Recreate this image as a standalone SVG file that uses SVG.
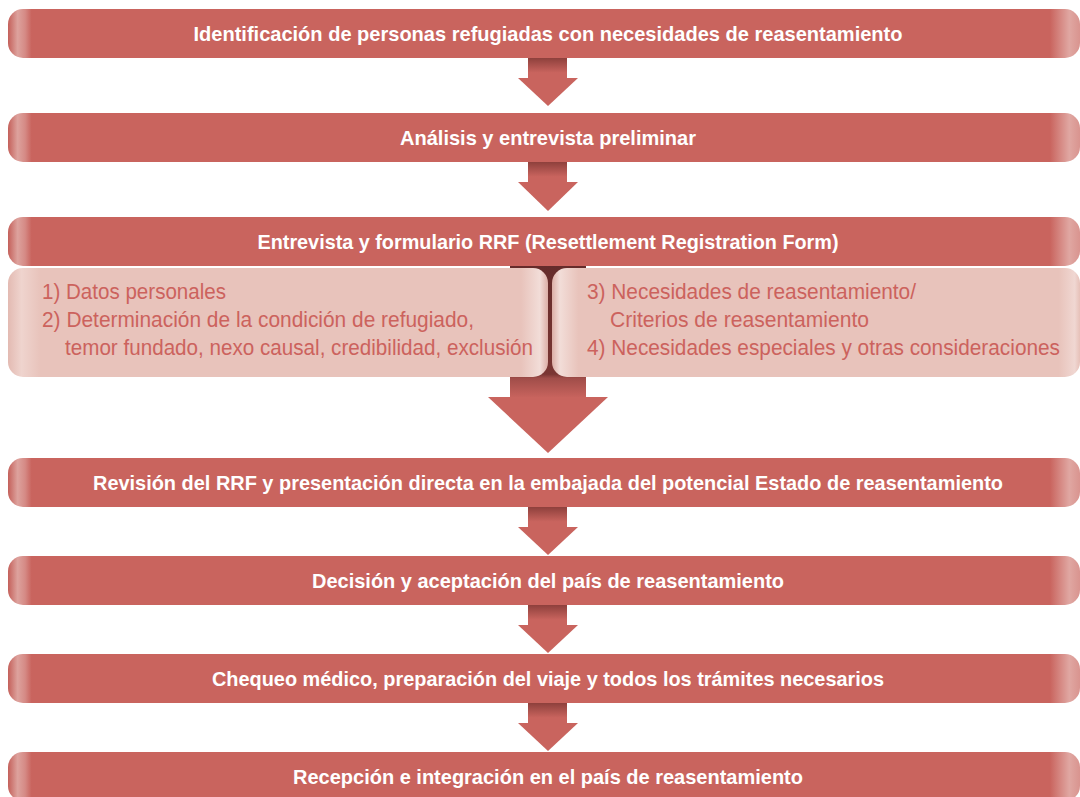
<svg xmlns="http://www.w3.org/2000/svg" width="1080" height="797" viewBox="0 0 1080 797">
<style>
.bar{fill:url(#barGrad)}
.t{font-family:"Liberation Sans",Arial,sans-serif;font-weight:bold;font-size:21px;fill:#ffffff;text-anchor:middle}
.l{font-family:"Liberation Sans",Arial,sans-serif;font-size:22px;fill:#cc625d}
.head{fill:#c9645e}
.shaft{fill:url(#shaftGrad)}
</style>
<defs>
<linearGradient id="barGrad" gradientUnits="userSpaceOnUse" x1="8" y1="0" x2="1080" y2="0">
<stop offset="0" stop-color="#c4605a"/>
<stop offset="0.009" stop-color="#dda29d"/>
<stop offset="0.016" stop-color="#d58a85"/>
<stop offset="0.022" stop-color="#c9645e"/>
<stop offset="0.972" stop-color="#c9645e"/>
<stop offset="0.99" stop-color="#e0a7a2"/>
<stop offset="1" stop-color="#d9948f"/>
</linearGradient>
<linearGradient id="shaftGrad" x1="0" y1="0" x2="0" y2="1">
<stop offset="0" stop-color="#8e403c"/>
<stop offset="0.7" stop-color="#c9645e"/>
<stop offset="1" stop-color="#c9645e"/>
</linearGradient>
<linearGradient id="bigShaft" gradientUnits="userSpaceOnUse" x1="0" y1="266" x2="0" y2="398">
<stop offset="0" stop-color="#652b2a"/>
<stop offset="0.82" stop-color="#7a3633"/>
<stop offset="0.85" stop-color="#a04d49"/>
<stop offset="1" stop-color="#c9645e"/>
</linearGradient>
<linearGradient id="lightL" gradientUnits="userSpaceOnUse" x1="8" y1="0" x2="548" y2="0">
<stop offset="0" stop-color="#e3bab2"/>
<stop offset="0.025" stop-color="#efd4ce"/>
<stop offset="0.06" stop-color="#e8c3bb"/>
<stop offset="0.95" stop-color="#e8c3bb"/>
<stop offset="0.985" stop-color="#f2ddd8"/>
<stop offset="1" stop-color="#dcaea6"/>
</linearGradient>
<linearGradient id="lightR" gradientUnits="userSpaceOnUse" x1="552" y1="0" x2="1080" y2="0">
<stop offset="0" stop-color="#dcaea6"/>
<stop offset="0.015" stop-color="#f2ddd8"/>
<stop offset="0.05" stop-color="#e8c3bb"/>
<stop offset="0.96" stop-color="#e8c3bb"/>
<stop offset="0.99" stop-color="#f0d7d2"/>
<stop offset="1" stop-color="#e6c0b8"/>
</linearGradient>
</defs>

<g id="connectors">
<g id="arrow1"><rect class="shaft" x="528" y="58" width="39" height="21"/><polygon class="head" points="518,78 578,78 548,106"/></g>
<g id="arrow2"><rect class="shaft" x="528" y="162" width="39" height="21"/><polygon class="head" points="518,182 578,182 548,211"/></g>
<g id="arrow3"><rect fill="url(#bigShaft)" x="510" y="266" width="76" height="132"/><polygon class="head" points="488,397 608,397 548,453"/></g>
<g id="arrow4"><rect class="shaft" x="528" y="507" width="39" height="21"/><polygon class="head" points="518,527 578,527 548,555"/></g>
<g id="arrow5"><rect class="shaft" x="528" y="605" width="39" height="21"/><polygon class="head" points="518,625 578,625 548,653"/></g>
<g id="arrow6"><rect class="shaft" x="528" y="703" width="39" height="21"/><polygon class="head" points="518,723 578,723 548,751"/></g>
</g>

<g id="node1"><rect class="bar" x="8" y="9" width="1072" height="49" rx="15"/><text class="t" x="548" y="41" textLength="709" lengthAdjust="spacingAndGlyphs">Identificación de personas refugiadas con necesidades de reasentamiento</text></g>
<g id="node2"><rect class="bar" x="8" y="113" width="1072" height="49" rx="15"/><text class="t" x="548" y="145" textLength="296" lengthAdjust="spacingAndGlyphs">Análisis y entrevista preliminar</text></g>
<g id="node3"><rect class="bar" x="8" y="217" width="1072" height="49" rx="15"/><text class="t" x="548" y="249" textLength="581" lengthAdjust="spacingAndGlyphs">Entrevista y formulario RRF (Resettlement Registration Form)</text></g>
<g id="node3a"><rect fill="url(#lightL)" x="8" y="268" width="540" height="109" rx="15"/>
<text class="l" x="42" y="299" textLength="184" lengthAdjust="spacingAndGlyphs">1) Datos personales</text>
<text class="l" x="42" y="327" textLength="432" lengthAdjust="spacingAndGlyphs">2) Determinación de la condición de refugiado,</text>
<text class="l" x="65" y="355" textLength="468" lengthAdjust="spacingAndGlyphs">temor fundado, nexo causal, credibilidad, exclusión</text></g>
<g id="node3b"><rect fill="url(#lightR)" x="552" y="268" width="528" height="109" rx="15"/>
<text class="l" x="587" y="299" textLength="329" lengthAdjust="spacingAndGlyphs">3) Necesidades de reasentamiento/</text>
<text class="l" x="610" y="327" textLength="259" lengthAdjust="spacingAndGlyphs">Criterios de reasentamiento</text>
<text class="l" x="587" y="355" textLength="473" lengthAdjust="spacingAndGlyphs">4) Necesidades especiales y otras consideraciones</text></g>
<g id="node4"><rect class="bar" x="8" y="458" width="1072" height="49" rx="15"/><text class="t" x="548" y="490" textLength="910" lengthAdjust="spacingAndGlyphs">Revisión del RRF y presentación directa en la embajada del potencial Estado de reasentamiento</text></g>
<g id="node5"><rect class="bar" x="8" y="556" width="1072" height="49" rx="15"/><text class="t" x="548" y="588" textLength="472" lengthAdjust="spacingAndGlyphs">Decisión y aceptación del país de reasentamiento</text></g>
<g id="node6"><rect class="bar" x="8" y="654" width="1072" height="49" rx="15"/><text class="t" x="548" y="686" textLength="672" lengthAdjust="spacingAndGlyphs">Chequeo médico, preparación del viaje y todos los trámites necesarios</text></g>
<g id="node7"><rect class="bar" x="8" y="752" width="1072" height="49" rx="15"/><text class="t" x="548" y="784" textLength="510" lengthAdjust="spacingAndGlyphs">Recepción e integración en el país de reasentamiento</text></g>
</svg>
